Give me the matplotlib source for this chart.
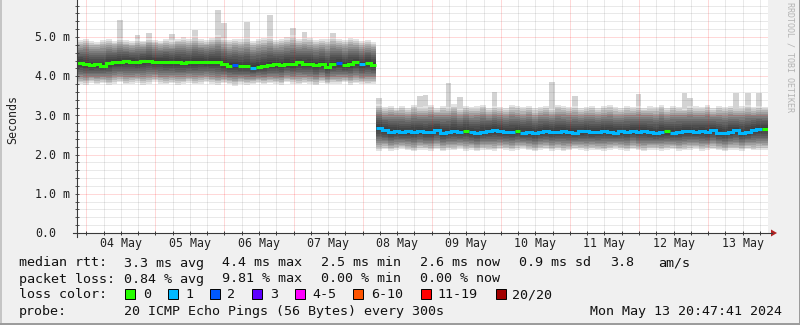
"""
SmokePing style latency graph (10 days, 2 hour bins)
"""
import datetime as dt
import numpy as np
import matplotlib
matplotlib.use('Agg')
import matplotlib.pyplot as plt
import matplotlib.dates as mdates
from matplotlib.collections import LineCollection
from matplotlib.patches import Rectangle, Polygon
from matplotlib.lines import Line2D

# --- data (ms), one value per 2 hour bin, 120 bins ---
start = dt.datetime(2024, 5, 3, 20, 47, 41)
end = dt.datetime(2024, 5, 13, 20, 47, 41)

median_ms = [
    4.33, 4.31, 4.28, 4.30, 4.27, 4.33, 4.36, 4.35, 4.38, 4.37,
    4.35, 4.38, 4.40, 4.36, 4.37, 4.36, 4.35, 4.36, 4.34, 4.35,
    4.36, 4.37, 4.35, 4.36, 4.35, 4.30, 4.27, 4.28, 4.25, 4.26,
    4.22, 4.24, 4.26, 4.29, 4.30, 4.28, 4.32, 4.30, 4.35, 4.31,
    4.32, 4.28, 4.31, 4.23, 4.30, 4.33, 4.28, 4.31, 4.35, 4.30,
    4.33, 4.29, 2.68, 2.62, 2.58, 2.60, 2.57, 2.59, 2.58, 2.61,
    2.57, 2.58, 2.63, 2.56, 2.58, 2.60, 2.57, 2.61, 2.57, 2.55,
    2.58, 2.60, 2.62, 2.59, 2.58, 2.57, 2.60, 2.56, 2.57, 2.54,
    2.58, 2.59, 2.57, 2.58, 2.61, 2.58, 2.56, 2.59, 2.60, 2.57,
    2.58, 2.60, 2.58, 2.56, 2.59, 2.57, 2.61, 2.58, 2.60, 2.57,
    2.55, 2.58, 2.59, 2.56, 2.58, 2.60, 2.59, 2.58, 2.60, 2.57,
    2.62, 2.56, 2.54, 2.58, 2.62, 2.55, 2.58, 2.64, 2.65, 2.66,
]

# top and bottom edge of the smoke
hi_ms = [
    4.92, 4.95, 4.90, 4.88, 4.93, 4.96, 4.90, 4.97, 4.92, 4.89,
    4.94, 4.91, 4.98, 4.93, 4.90, 4.95, 4.92, 4.96, 4.99, 4.94,
    5.02, 4.95, 4.93, 4.97, 5.05, 4.98, 4.92, 4.96, 4.94, 5.00,
    4.91, 4.95, 4.97, 5.02, 4.93, 4.96, 4.99, 5.04, 4.95, 5.00,
    4.97, 4.93, 4.96, 4.94, 5.01, 4.95, 4.92, 4.98, 4.94, 4.90,
    4.93, 4.88, 3.28, 3.22, 3.25, 3.20, 3.24, 3.18, 3.27, 3.21,
    3.23, 3.26, 3.19, 3.24, 3.22, 3.28, 3.20, 3.25, 3.21, 3.23,
    3.27, 3.19, 3.24, 3.22, 3.20, 3.26, 3.23, 3.21, 3.25, 3.18,
    3.22, 3.24, 3.20, 3.27, 3.23, 3.21, 3.25, 3.19, 3.22, 3.24,
    3.20, 3.23, 3.26, 3.21, 3.18, 3.24, 3.22, 3.25, 3.20, 3.23,
    3.21, 3.27, 3.19, 3.24, 3.22, 3.20, 3.25, 3.23, 3.21, 3.26,
    3.18, 3.24, 3.22, 3.25, 3.20, 3.23, 3.27, 3.21, 3.24, 3.22,
]
lo_ms = [
    3.80, 3.78, 3.83, 3.79, 3.82, 3.77, 3.81, 3.84, 3.79, 3.80,
    3.83, 3.78, 3.81, 3.85, 3.80, 3.79, 3.82, 3.78, 3.80, 3.83,
    3.79, 3.81, 3.84, 3.80, 3.77, 3.82, 3.79, 3.76, 3.81, 3.78,
    3.80, 3.83, 3.79, 3.82, 3.80, 3.78, 3.84, 3.81, 3.79, 3.82,
    3.80, 3.77, 3.83, 3.79, 3.81, 3.80, 3.84, 3.78, 3.82, 3.80,
    3.79, 3.81, 2.10, 2.14, 2.09, 2.12, 2.15, 2.11, 2.08, 2.13,
    2.12, 2.10, 2.14, 2.09, 2.13, 2.11, 2.15, 2.10, 2.12, 2.08,
    2.13, 2.11, 2.09, 2.14, 2.12, 2.10, 2.13, 2.15, 2.11, 2.09,
    2.12, 2.14, 2.10, 2.13, 2.08, 2.11, 2.14, 2.12, 2.10, 2.13,
    2.11, 2.09, 2.13, 2.15, 2.12, 2.10, 2.14, 2.11, 2.08, 2.12,
    2.13, 2.10, 2.12, 2.14, 2.09, 2.11, 2.13, 2.15, 2.10, 2.12,
    2.14, 2.11, 2.09, 2.13, 2.12, 2.10, 2.14, 2.11, 2.13, 2.12,
]

# single slow pings sticking out of the smoke (bin -> ms)
spikes = {
    7: 5.43, 10: 5.05, 12: 5.10, 16: 5.08, 20: 5.17, 24: 5.70, 25: 5.35,
    29: 5.37, 33: 5.57, 37: 5.22, 39: 5.13, 44: 5.10,
    52: 3.45, 59: 3.50, 60: 3.52, 64: 3.82, 66: 3.47, 72: 3.60, 82: 3.85,
    86: 3.50, 97: 3.55, 105: 3.57, 106: 3.45, 114: 3.57, 116: 3.57, 118: 3.57,
}

# lost pings per bin (out of 20)
loss = [
    0, 0, 0, 0, 0, 0, 0, 0, 0, 0,
    0, 0, 0, 0, 0, 0, 0, 0, 0, 0,
    0, 0, 0, 0, 0, 0, 0, 2, 0, 0,
    1, 0, 0, 0, 0, 0, 0, 0, 0, 0,
    0, 0, 0, 0, 0, 2, 0, 0, 0, 1,
    0, 0, 1, 1, 1, 1, 1, 1, 1, 1,
    1, 1, 1, 1, 1, 1, 1, 0, 1, 1,
    1, 1, 1, 1, 1, 1, 0, 1, 1, 1,
    1, 1, 1, 1, 1, 1, 1, 1, 1, 1,
    1, 1, 1, 1, 1, 1, 1, 1, 1, 1,
    1, 1, 0, 1, 1, 1, 1, 1, 1, 1,
    1, 1, 1, 1, 1, 1, 1, 1, 1, 0,
]

loss_labels = ['0', '1', '2', '3', '4-5', '6-10', '11-19', '20/20']
loss_colors = ['#26ff00', '#00b8ff', '#0059ff', '#5e00ff',
               '#ff00ff', '#ff5500', '#ff0000', '#a10000']

# --- layout helpers (pixel -> figure fraction) ---
W, H = 800, 325
def fx(px):
    return px / W
def fy(py):
    return 1 - py / H

MONO = 'DejaVu Sans Mono'
px_per_ms = 39.2

fig = plt.figure(figsize=(8, 3.25), dpi=100, facecolor='#f0f0f0')
ax = fig.add_axes([fx(77), fy(233), 691 / W, 233 / H])
ax.set_facecolor('white')

n = len(median_ms)
edges = [start + i * dt.timedelta(hours=2) for i in range(n + 1)]
x = mdates.date2num(edges)
med = np.array(median_ms)
hi = np.array(hi_ms)
lo = np.array(lo_ms)
peak = hi.copy()
for b, v in spikes.items():
    peak[b] = v

def ext(a):
    return np.append(a, a[-1])

# outlier pings, light grey
ax.fill_between(x, ext(hi), ext(peak), step='post', color='#d3d3d3', lw=0, zorder=1)

# smoke: stacked translucent bands, darker near the median
layers = 12
for k in range(1, layers + 1):
    f = k / layers
    ax.fill_between(x, ext(med - (med - lo) * f), ext(med + (hi - med) * f),
                    step='post', color='black', alpha=0.11, lw=0, zorder=2)

# grid
t = dt.datetime(2024, 5, 4)
while t < end:
    major = t.hour == 0
    ax.axvline(mdates.date2num(t), color=(1, 0, 0, 0.3) if major else (0.45, 0.45, 0.45, 0.3),
               lw=0.72, ls=(0, (1, 1)), zorder=3)
    t += dt.timedelta(hours=6)
for j in range(1, 30):
    v = j * 0.2
    major = j % 5 == 0
    ax.axhline(v, color=(1, 0, 0, 0.3) if major else (0.45, 0.45, 0.45, 0.3),
               lw=0.72, ls=(0, (1, 1)), zorder=3)

# median line, coloured by loss, split into runs of equal loss
segs, cols = [], []
i = 0
while i < n:
    j = i
    pts = [(x[i], med[i]), (x[i + 1], med[i])]
    while j + 1 < n and loss[j + 1] == loss[i]:
        j += 1
        pts += [(x[j], med[j]), (x[j + 1], med[j])]
    segs.append(pts)
    cols.append(loss_colors[loss[i]])
    i = j + 1
ax.add_collection(LineCollection(segs, colors=cols, linewidths=2.2,
                                 capstyle='butt', joinstyle='miter', zorder=4))

ax.set_xlim(x[0], x[-1])
ax.set_ylim(0, 233 / px_per_ms)
ax.set_xticks([])
ax.set_yticks([])
for s in ax.spines.values():
    s.set_visible(False)

# axes lines, ticks and arrow
axis_col = '#3a3a3a'
fig.add_artist(Line2D([fx(73), fx(772)], [fy(233), fy(233)], color=axis_col, lw=0.8))
fig.add_artist(Line2D([fx(77), fx(77)], [fy(237), fy(0)], color=axis_col, lw=0.8))
fig.add_artist(Polygon([(fx(771), fy(229.5)), (fx(771), fy(236.5)), (fx(777), fy(233))],
                       closed=True, color='#b22222', lw=0))
t = dt.datetime(2024, 5, 4)
while t < end:
    ax.plot([mdates.date2num(t)], [0], marker='|', ms=3, color=axis_col, mew=0.7, clip_on=False, zorder=5)
    t += dt.timedelta(hours=6)
for j in range(1, 30):
    ax.plot([x[0]], [j * 0.2], marker='_', ms=2.5, color=axis_col, mew=0.6, clip_on=False, zorder=5)

# y tick labels
for v in range(6):
    lab = '%d.0 m' % v if v else '0.0'
    fig.text(fx(35), fy(233 - v * px_per_ms + 4.2), lab, family=MONO, size=8.4,
             color='#222222', ha='left', va='baseline')
fig.text(fx(13), fy(120), 'Seconds', family=MONO, size=8.4, rotation=90,
         color='#222222', ha='center', va='center')

# x tick labels at noon
for d in range(4, 14):
    noon = mdates.date2num(dt.datetime(2024, 5, d, 12))
    xp = 77 + (noon - x[0]) / (x[-1] - x[0]) * 691
    fig.text(fx(xp), fy(247), '%02d May' % d, family=MONO, size=8.4,
             color='#222222', ha='center', va='baseline')

# legend block
fs = 9.6
txt = '#111111'
rows = [
    (266.5, [(19, 'median rtt:'), (124, '3.3 ms avg'), (222, '4.4 ms max'), (321, '2.5 ms min'),
             (420, '2.6 ms now'), (519, '0.9 ms sd'), (610, '3.8'), (658, 'am/s')]),
    (282.5, [(19, 'packet loss:'), (124, '0.84 % avg'), (222, '9.81 % max'),
             (321, '0.00 % min'), (420, '0.00 % now')]),
    (298.5, [(19, 'loss color:')]),
    (314.5, [(19, 'probe:'), (124, '20 ICMP Echo Pings (56 Bytes) every 300s')]),
]
for yb, parts in rows:
    for xp, s in parts:
        fig.text(fx(xp), fy(yb), s, family=MONO, size=fs, color=txt, va='baseline')
fig.text(fx(782), fy(314.5), 'Mon May 13 20:47:41 2024', family=MONO, size=fs,
         color=txt, ha='right', va='baseline')

box_x = [125, 168, 210, 252, 295, 353, 421, 496]
lab_x = [143, 185, 227, 270, 312, 371, 437, 512]
for bx, lx, lab, c in zip(box_x, lab_x, loss_labels, loss_colors):
    fig.add_artist(Rectangle((fx(bx), fy(299)), 10 / W, 10 / H, facecolor=c,
                             edgecolor='black', lw=0.7, transform=fig.transFigure))
    fig.text(fx(lx), fy(298.5), lab, family=MONO, size=fs, color=txt, va='baseline')

# watermark on the right edge
fig.text(fx(790), fy(2), 'RRDTOOL / TOBI OETIKER', family=MONO, size=6.0,
         color='#b4b4b4', rotation=270, ha='center', va='top')

# frame
fig.add_artist(Line2D([fx(0.5), fx(0.5)], [0, 1], color='#c4c4c4', lw=1.4))
fig.add_artist(Line2D([0, 1], [fy(324), fy(324)], color='#9a9a9a', lw=1.4))
fig.add_artist(Line2D([fx(799.5), fx(799.5)], [0, 1], color='#9a9a9a', lw=1.4))

fig.savefig('out.png', dpi=100, facecolor=fig.get_facecolor())
